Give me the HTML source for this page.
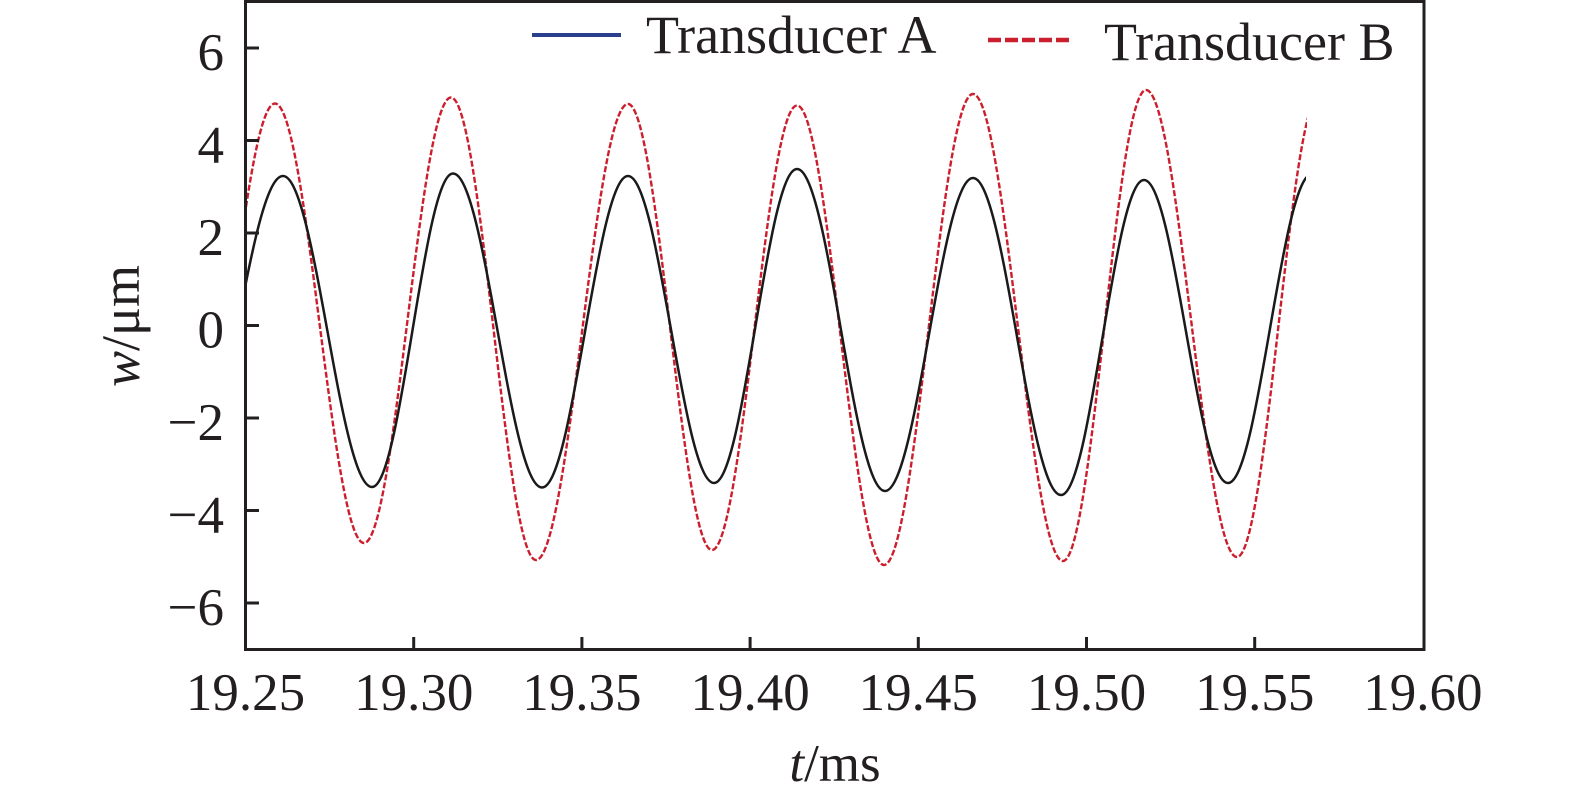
<!DOCTYPE html>
<html>
<head>
<meta charset="utf-8">
<style>
  html, body { margin: 0; padding: 0; background: #ffffff; }
  body { width: 1575px; height: 798px; overflow: hidden; }
  svg { display: block; }
  text { font-family: "Liberation Serif", "Times New Roman", serif; fill: #231f20; }
</style>
</head>
<body>
<svg width="1575" height="798" viewBox="0 0 1575 798" xmlns="http://www.w3.org/2000/svg">
  <defs>
    <clipPath id="clipA"><rect x="245" y="0" width="1061" height="650"/></clipPath>
    <clipPath id="clipB"><rect x="245" y="0" width="1062" height="650"/></clipPath>
  </defs>

  <!-- Series: Transducer B (red dashed) -->
  <path clip-path="url(#clipB)" fill="none" stroke="#cc1f2d" stroke-width="2.4" stroke-dasharray="6 2.2"
    d="M185,543 C217.7,543 242.3,103.5 275,103.5 C307.3,103.5 331.7,543 364,543 C395.6,543 419.4,97.5 451,97.5 C481.9,97.5 505.1,560 536,560 C569.4,560 594.6,104 628,104 C658.5,104 681.5,550 712,550 C742.9,550 766.1,105.5 797,105.5 C828.6,105.5 852.4,565 884,565 C916.3,565 940.7,94 973,94 C1005.7,94 1030.3,561 1063,561 C1093.2,561 1115.8,90 1146,90 C1179.1,90 1203.9,557 1237,557 C1267.2,557 1289.8,94 1320,94"/>

  <!-- Series: Transducer A (black solid) -->
  <path clip-path="url(#clipA)" fill="none" stroke="#1a1a1a" stroke-width="2.5" stroke-linejoin="round"
    d="M190,487 C223.8,487 249.2,176 283,176 C315.3,176 339.7,487 372,487 C401.4,487 423.6,173.5 453,173.5 C485.3,173.5 509.7,487.5 542,487.5 C573.3,487.5 596.7,176 628,176 C659.3,176 682.7,483 714,483 C744.2,483 766.8,169 797,169 C829,169 853,491 885,491 C917,491 941,178 973,178 C1005,178 1029,495 1061,495 C1091.2,495 1113.8,180 1144,180 C1174.5,180 1197.5,483 1228,483 C1258.5,483 1281.5,174 1312,174"/>

  <!-- Axes frame -->
  <rect x="245.5" y="1.5" width="1178.5" height="648" fill="none" stroke="#231f20" stroke-width="3"/>

  <!-- Y ticks (inward) -->
  <g stroke="#231f20" stroke-width="3">
    <line x1="245" y1="48" x2="259" y2="48"/>
    <line x1="245" y1="140.5" x2="259" y2="140.5"/>
    <line x1="245" y1="233" x2="259" y2="233"/>
    <line x1="245" y1="325.5" x2="259" y2="325.5"/>
    <line x1="245" y1="418" x2="259" y2="418"/>
    <line x1="245" y1="510.5" x2="259" y2="510.5"/>
    <line x1="245" y1="603" x2="259" y2="603"/>
  </g>
  <!-- X ticks (inward) -->
  <g stroke="#231f20" stroke-width="3">
    <line x1="413.7" y1="650" x2="413.7" y2="637"/>
    <line x1="581.9" y1="650" x2="581.9" y2="637"/>
    <line x1="750.1" y1="650" x2="750.1" y2="637"/>
    <line x1="918.3" y1="650" x2="918.3" y2="637"/>
    <line x1="1086.5" y1="650" x2="1086.5" y2="637"/>
    <line x1="1254.7" y1="650" x2="1254.7" y2="637"/>
  </g>

  <!-- Y tick labels -->
  <g font-size="53" text-anchor="end">
    <text x="224" y="70">6</text>
    <text x="224" y="162.5">4</text>
    <text x="224" y="255">2</text>
    <text x="224" y="347.5">0</text>
    <text x="224" y="440">−2</text>
    <text x="224" y="532.5">−4</text>
    <text x="224" y="625">−6</text>
  </g>

  <!-- X tick labels -->
  <g font-size="53" text-anchor="middle">
    <text x="245.5" y="710">19.25</text>
    <text x="413.7" y="710">19.30</text>
    <text x="581.9" y="710">19.35</text>
    <text x="750.1" y="710">19.40</text>
    <text x="918.3" y="710">19.45</text>
    <text x="1086.5" y="710">19.50</text>
    <text x="1254.7" y="710">19.55</text>
    <text x="1422.9" y="710">19.60</text>
  </g>

  <!-- Axis labels -->
  <text x="835" y="781" font-size="53" text-anchor="middle"><tspan font-style="italic">t</tspan>/ms</text>
  <text transform="translate(139,326) rotate(-90)" font-size="54" text-anchor="middle"><tspan font-style="italic">w</tspan>/μm</text>

  <!-- Legend -->
  <line x1="532" y1="35" x2="621" y2="35" stroke="#2b3f8f" stroke-width="4"/>
  <text x="646" y="53" font-size="54">Transducer A</text>
  <line x1="988" y1="40" x2="1072" y2="40" stroke="#cc1f2d" stroke-width="4.5" stroke-dasharray="13 4"/>
  <text x="1104" y="60" font-size="54">Transducer B</text>
</svg>
</body>
</html>
